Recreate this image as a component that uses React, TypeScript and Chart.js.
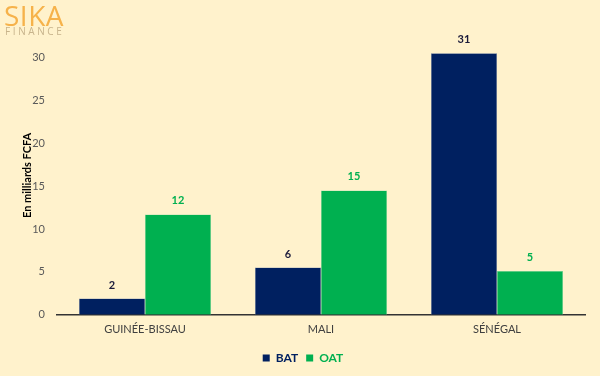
import React, { useEffect, useRef } from "react";
import { Chart, registerables } from "chart.js";

Chart.register(...registerables);

const categories = ["GUINÉE-BISSAU", "MALI", "SÉNÉGAL"];
const batValues = [1.9, 5.5, 30.5];
const oatValues = [11.7, 14.5, 5.1];
const seriesNames = ["BAT", "OAT"];
const yTicks = [0, 5, 10, 15, 20, 25, 30];

const NAVY = "#002060";
const GREEN = "#00B050";
const BG = "#FFF2CC";
const FONT = "Lato, 'Open Sans', sans-serif";

const bgPlugin = {
  id: "bg",
  beforeDraw(chart: any) {
    const ctx = chart.ctx;
    ctx.save();
    ctx.fillStyle = BG;
    ctx.fillRect(0, 0, chart.width, chart.height);
    ctx.restore();
  },
};

const labelPlugin = {
  id: "valueLabels",
  afterDatasetsDraw(chart: any) {
    const ctx = chart.ctx;
    chart.data.datasets.forEach((ds: any, i: number) => {
      const meta = chart.getDatasetMeta(i);
      meta.data.forEach((bar: any, j: number) => {
        const v = ds.data[j];
        ctx.save();
        ctx.font = `bold 11px ${FONT}`;
        ctx.fillStyle = i === 0 ? "#1a1a3a" : GREEN;
        ctx.textAlign = "center";
        ctx.textBaseline = "bottom";
        ctx.fillText(String(Math.round(v)), bar.x, bar.y - 8);
        ctx.restore();
      });
    });
  },
};

export default function App() {
  const ref = useRef<HTMLCanvasElement | null>(null);
  useEffect(() => {
    if (!ref.current) return;
    const chart = new Chart(ref.current, {
      type: "bar",
      data: {
        labels: categories,
        datasets: [
          { label: seriesNames[0], data: batValues, backgroundColor: NAVY, borderColor: "#6b7fa8", borderWidth: 0.5 },
          { label: seriesNames[1], data: oatValues, backgroundColor: GREEN, borderColor: "#7fd6a0", borderWidth: 0.5 },
        ],
      },
      options: {
        animation: false,
        responsive: false,
        maintainAspectRatio: false,
        layout: { padding: { top: 36, right: 15, left: 21, bottom: 2 } },
        datasets: { bar: { categoryPercentage: 0.75, barPercentage: 1 } },
        scales: {
          x: {
            grid: { display: false, drawTicks: false },
            border: { display: true, color: "#333333", width: 1.5 },
            ticks: { color: "#404040", font: { family: FONT, size: 11 }, padding: 8 },
          },
          y: {
            min: 0,
            max: 32.5,
            grid: { display: false, drawTicks: false },
            border: { display: false },
            afterBuildTicks(scale: any) {
              scale.ticks = yTicks.map((v) => ({ value: v }));
            },
            afterFit(scale: any) {
              scale.width = 36;
            },
            ticks: { color: "#595959", font: { family: FONT, size: 11 }, padding: 12 },
            title: {
              display: true,
              text: "En milliards FCFA",
              color: "#000000",
              font: { family: FONT, size: 11, weight: "bold" },
              padding: { top: 0, bottom: 4 },
            },
          },
        },
        plugins: {
          legend: {
            position: "bottom",
            labels: {
              boxWidth: 7,
              boxHeight: 7,
              font: { family: FONT, size: 12, weight: "bold" },
              padding: 8,
              generateLabels(chart: any) {
                return chart.data.datasets.map((ds: any, i: number) => ({
                  text: ds.label,
                  fillStyle: ds.backgroundColor,
                  strokeStyle: ds.backgroundColor,
                  lineWidth: 0,
                  fontColor: i === 0 ? NAVY : GREEN,
                  datasetIndex: i,
                  hidden: false,
                }));
              },
            },
          },
          tooltip: { enabled: false },
        },
      },
      plugins: [bgPlugin, labelPlugin],
    });
    return () => chart.destroy();
  }, []);

  return (
    <div style={{ position: "fixed", left: 0, top: 0, width: 600, height: 376, background: BG, overflow: "hidden" }}>
      <canvas ref={ref} width={600} height={376} style={{ position: "absolute", left: 0, top: 0, width: 600, height: 376 }} />
      <div style={{ position: "absolute", left: 4, top: 0, fontFamily: "'Open Sans', sans-serif", fontSize: 28, fontWeight: 500, color: "#F6B24A", letterSpacing: 0.5, lineHeight: "30px" }}>SIKA</div>
      <div style={{ position: "absolute", left: 5, top: 25, fontFamily: "'Open Sans', sans-serif", fontSize: 10, color: "#C8B48C", letterSpacing: 2.6, lineHeight: "12px" }}>FINANCE</div>
    </div>
  );
}
